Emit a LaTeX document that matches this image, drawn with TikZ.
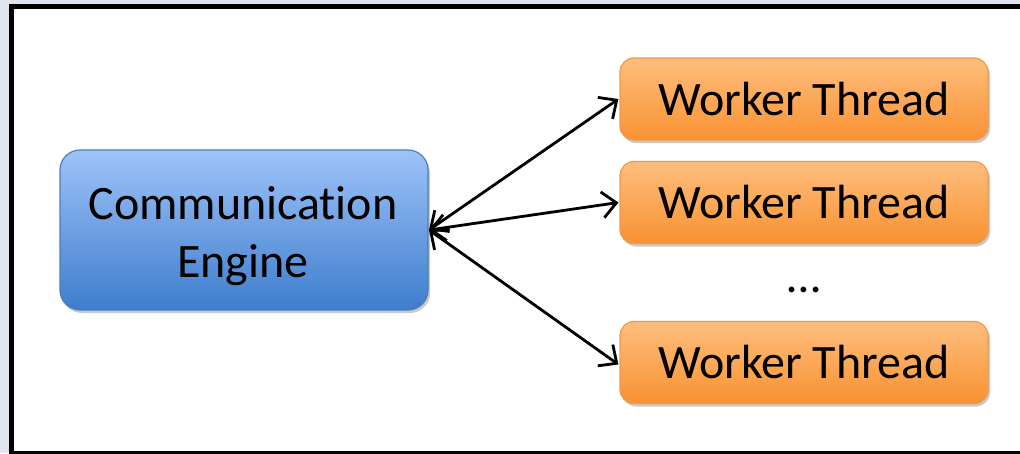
\documentclass[tikz,border=0pt]{standalone}
\usepackage{fontspec}
\setmainfont{Carlito}[Ligatures=NoCommon]
\usetikzlibrary{arrows.meta,shadows}
\definecolor{pagebg}{HTML}{DFE4EF}
\definecolor{engtop}{HTML}{9EC3F8}
\definecolor{engbot}{HTML}{3E7DCD}
\definecolor{engline}{HTML}{4A7EBB}
\definecolor{wrktop}{HTML}{FFBE7E}
\definecolor{wrkbot}{HTML}{F89232}
\definecolor{wrkline}{HTML}{F79646}
\tikzset{
  big/.style={font=\fontsize{48}{57}\selectfont},
  box/.style={big, rounded corners=20pt, line width=1.2pt, inner sep=0pt,
    align=center,
    drop shadow={shadow xshift=2pt, shadow yshift=-3pt, opacity=0.35, fill=black!60}},
  engine/.style={box, minimum width=368pt, minimum height=160pt,
    top color=engtop, bottom color=engbot, draw=engline},
  worker/.style={box, rounded corners=14pt, minimum width=368pt, minimum height=82pt,
    top color=wrktop, bottom color=wrkbot, draw=wrkline},
  link/.style={line width=2.8pt,
    {Straight Barb[length=14pt,width=26pt]}-{Straight Barb[length=14pt,width=26pt]}}
}
\begin{document}
\begin{tikzpicture}[x=1pt,y=-1pt]
  \useasboundingbox (0,0) rectangle (1020,453);
  \fill[pagebg] (0,0) rectangle (1020,453);
  \begin{scope}
    \clip (0,0) rectangle (1020,453);
    \draw[line width=5pt, fill=white] (11.5,6.5) rectangle (1040,453.5);
  \end{scope}

  \node[engine] (eng) at (244,230) {};
  \node[big, align=center] (englabel) at (243,236) {Communication\\[1pt]Engine};
  \node[worker] (w1) at (804,99) {Worker Thread};
  \node[worker] (w2) at (804,202.5) {Worker Thread};
  \node[worker] (w3) at (804,362.5) {Worker Thread};
  \node[big] (dots) at (804,290) {…};

  \coordinate (hub) at (429,230);
  \draw[link] (hub) -- ([xshift=-1pt]w1.west);
  \draw[link] (hub) -- ([xshift=-1pt]w2.west);
  \draw[link] (hub) -- ([xshift=-1pt,yshift=-2pt]w3.west);
\end{tikzpicture}
\end{document}
